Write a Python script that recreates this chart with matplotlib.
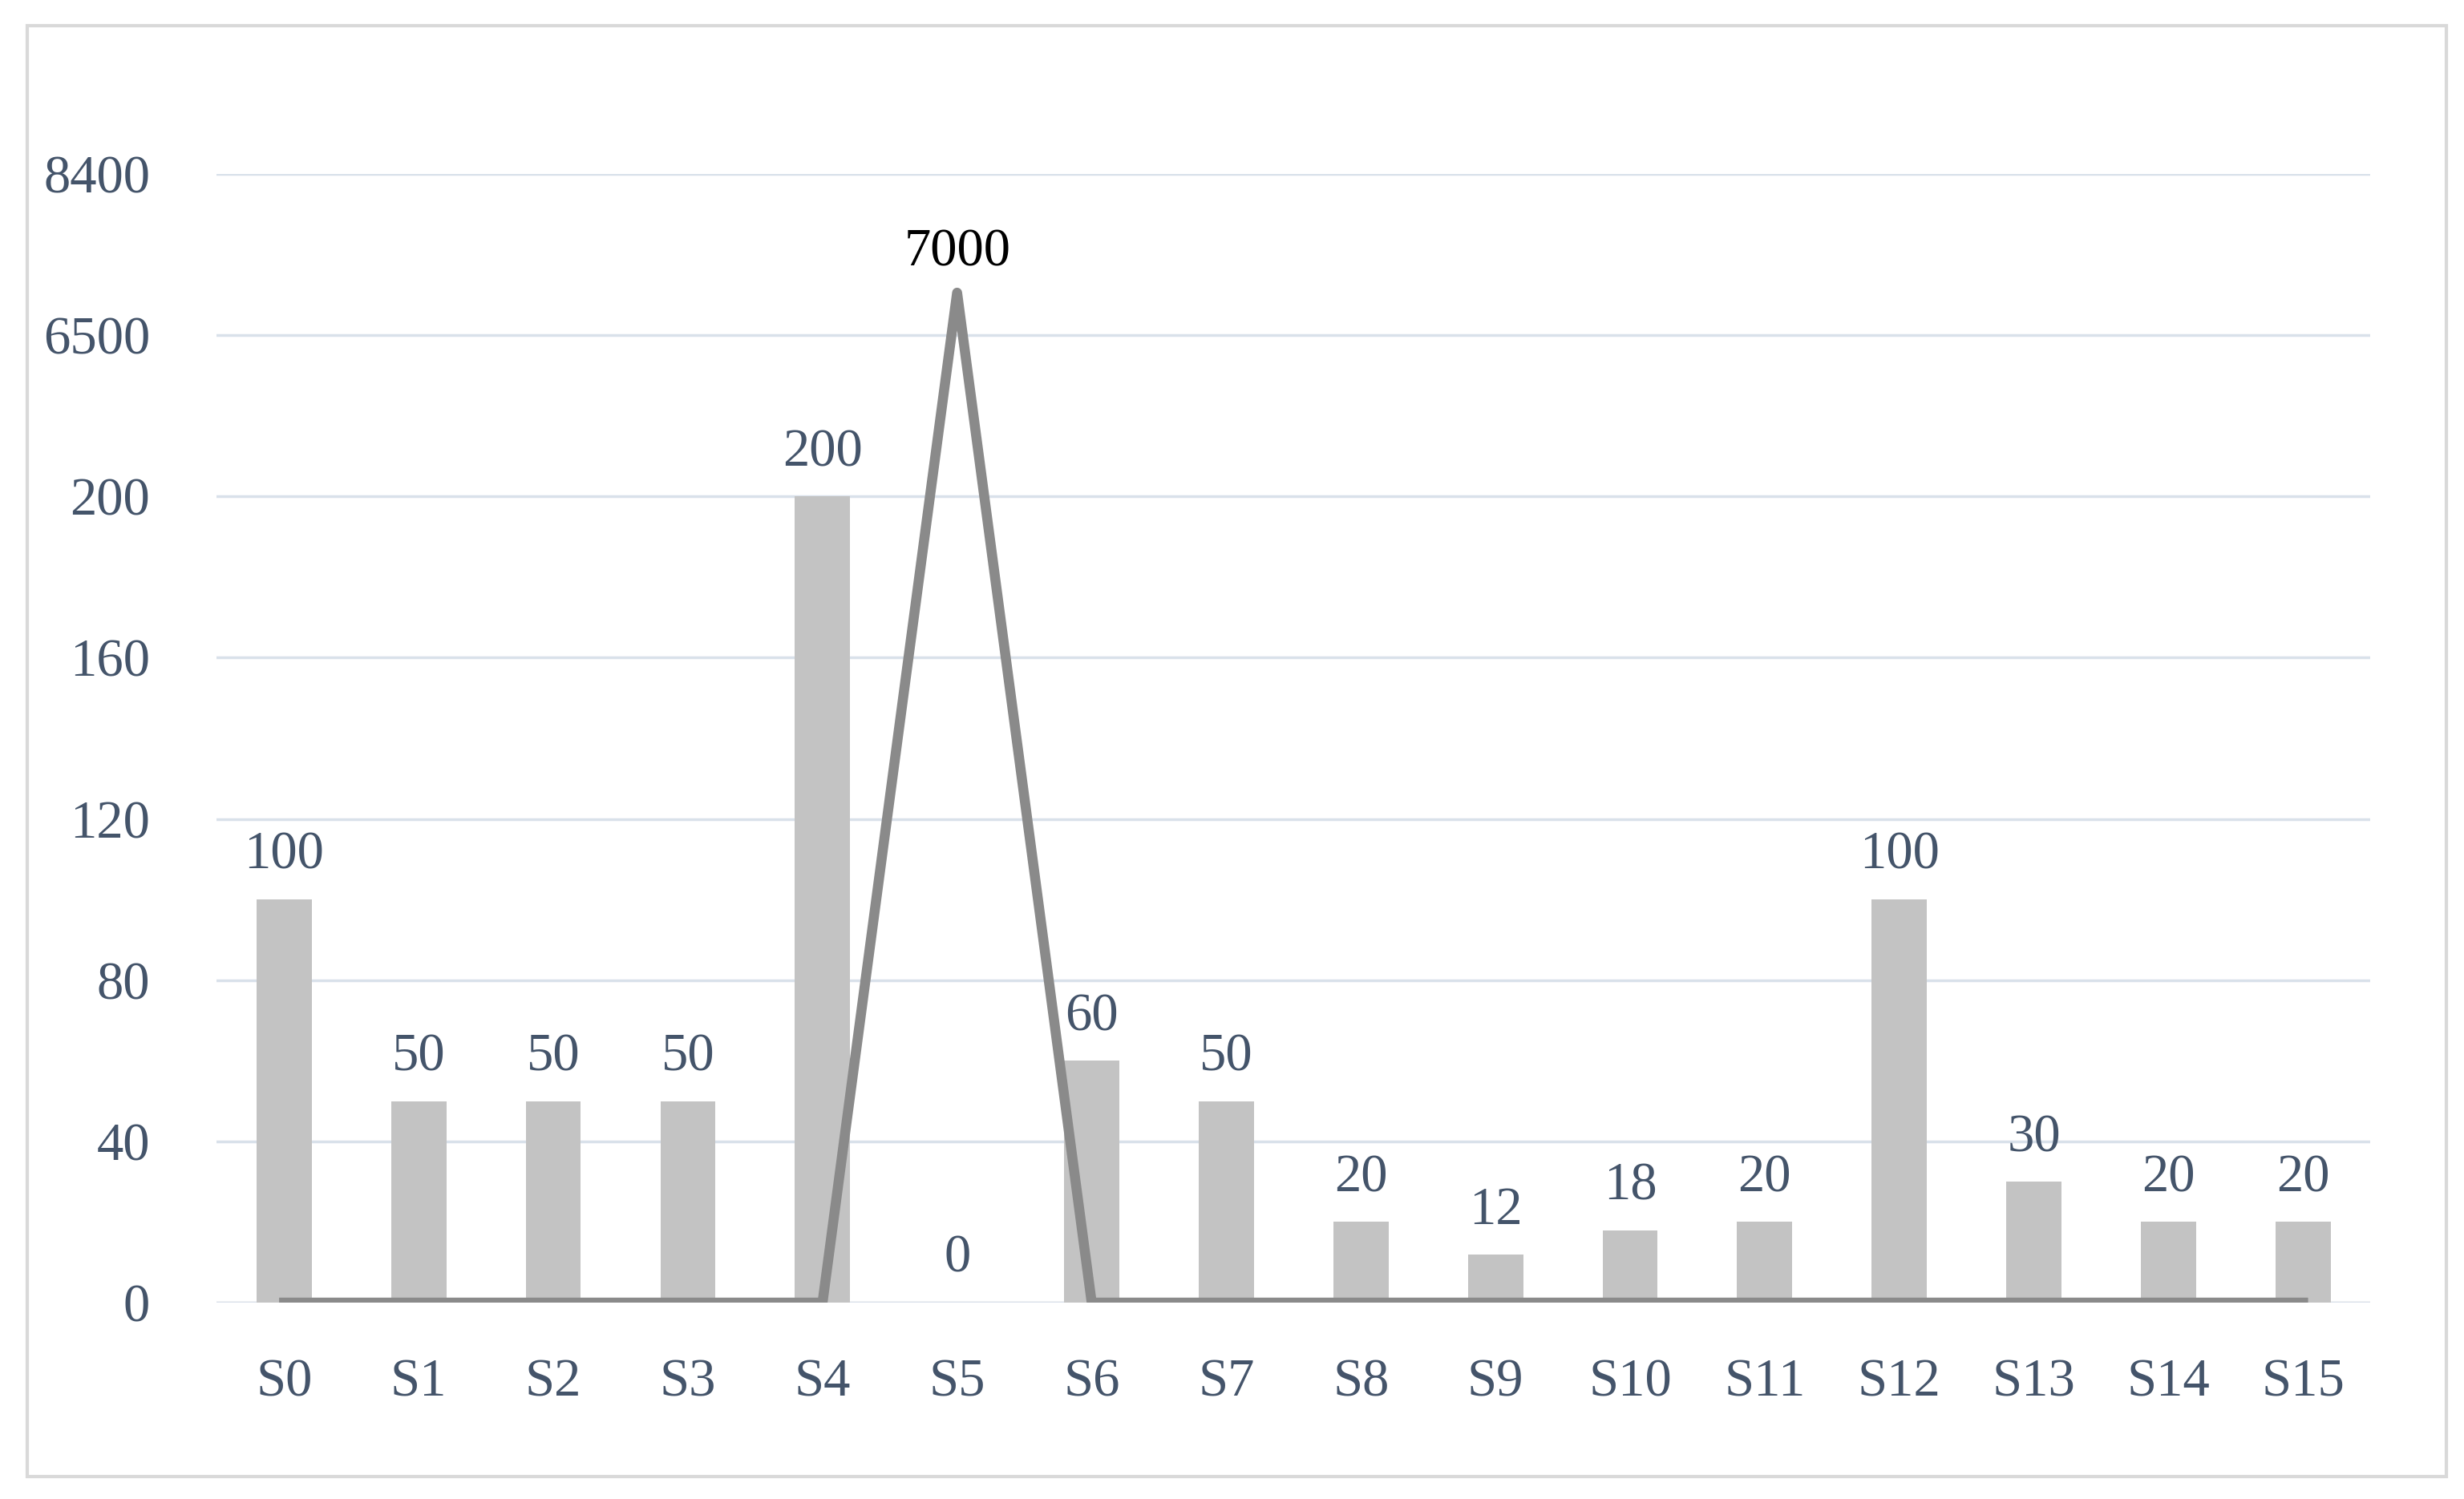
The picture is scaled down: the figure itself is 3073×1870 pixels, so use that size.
import matplotlib
matplotlib.use("Agg")
import matplotlib.pyplot as plt
import numpy as np
from matplotlib.patches import Rectangle

categories = [f"S{i}" for i in range(16)]
bar_values = [100, 50, 50, 50, 200, 0, 60, 50, 20, 12, 18, 20, 100, 30, 20, 20]
line_values = [0, 0, 0, 0, 0, 7000, 0, 0, 0, 0, 0, 0, 0, 0, 0, 0]
tick_values = [0, 40, 80, 120, 160, 200, 6500, 8400]

def m(v):
    if v <= 200:
        return v / 40
    if v <= 6500:
        return 5 + (v - 200) / 6300
    return 6 + (v - 6500) / 1900

plt.rcParams['font.family'] = ['Liberation Serif', 'DejaVu Serif']
txt = '#44546a'
fs = 48
fig = plt.figure(figsize=(30.73, 18.70), dpi=100)
fig.patches.append(Rectangle((0.011, 0.015), 0.982, 0.968, transform=fig.transFigure,
                             fill=False, edgecolor='#d9d9d9', linewidth=3))
ax = fig.add_axes([0.088, 0.131, 0.874, 0.753])
x = np.arange(len(categories))
bh = [m(v) for v in bar_values]
ax.bar(x, bh, width=0.41, color='#c3c3c3', zorder=2)
ax.plot(x, [m(v) for v in line_values], color='#8a8a8a', linewidth=9, zorder=3)
for xi, v, h in zip(x, bar_values, bh):
    ax.text(xi, h + 0.12, str(v), ha='center', va='bottom', fontsize=fs, color=txt)
for xi, v in zip(x, line_values):
    if v:
        ax.text(xi, m(v) + 0.1, str(v), ha='center', va='bottom', fontsize=fs, color='black')
ax.set_yticks([m(t) for t in tick_values])
ax.set_yticklabels([str(t) for t in tick_values], fontsize=fs, color=txt)
ax.set_xticks(x)
ax.set_xticklabels(categories, fontsize=fs, color=txt)
ax.set_ylim(0, 7)
ax.set_xlim(-0.5, 15.5)
ax.grid(axis='y', color='#d9e1ea', linewidth=2.5, zorder=0)
ax.tick_params(axis='x', length=0, pad=50)
ax.tick_params(axis='y', length=0, pad=60)
for s in ax.spines.values():
    s.set_visible(False)
ax.axhline(0, color='#d9d9d9', linewidth=2.5, zorder=1)
fig.savefig('out.png', dpi=100)
